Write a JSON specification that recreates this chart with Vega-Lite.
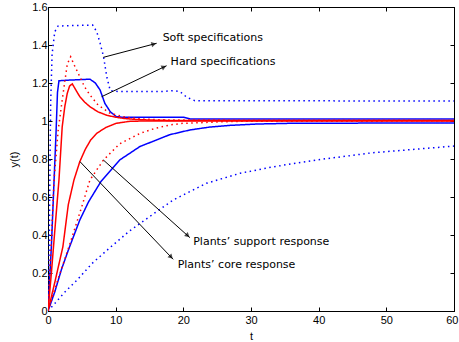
{
  "$schema": "https://vega.github.io/schema/vega-lite/v6.json",
  "width": 406,
  "height": 304,
  "autosize": "none",
  "padding": {"left": 48, "top": 7, "right": 5, "bottom": 31},
  "background": "white",
  "config": {
    "view": {"stroke": "black", "strokeWidth": 1},
    "axis": {
      "labelFont": "Liberation Sans", "labelFontSize": 11, "labelColor": "black",
      "titleFont": "Liberation Sans", "titleFontSize": 11, "titleFontWeight": "normal", "titleColor": "black",
      "domainColor": "black", "tickColor": "black", "tickSize": -4, "grid": false, "labelFlush": false
    }
  },
  "datasets": {
    "curves": [
      {"c":"SU","t":0,"y":0},{"c":"SU","t":0.2,"y":0.4},{"c":"SU","t":0.3,"y":0.8},{"c":"SU","t":0.4,"y":1.1},{"c":"SU","t":0.6,"y":1.35},{"c":"SU","t":1.0,"y":1.47},{"c":"SU","t":1.5,"y":1.5},{"c":"SU","t":6.6,"y":1.505},{"c":"SU","t":7.2,"y":1.47},{"c":"SU","t":7.7,"y":1.41},{"c":"SU","t":8.2,"y":1.34},{"c":"SU","t":8.7,"y":1.23},{"c":"SU","t":9.2,"y":1.16},{"c":"SU","t":10.5,"y":1.155},{"c":"SU","t":17,"y":1.155},{"c":"SU","t":18.5,"y":1.16},{"c":"SU","t":19.5,"y":1.155},{"c":"SU","t":20.5,"y":1.125},{"c":"SU","t":21.7,"y":1.107},{"c":"SU","t":60,"y":1.105},
      {"c":"SL","t":0,"y":0},{"c":"SL","t":1,"y":0.04},{"c":"SL","t":2.5,"y":0.1},{"c":"SL","t":4.3,"y":0.163},{"c":"SL","t":6.5,"y":0.25},{"c":"SL","t":9.3,"y":0.338},{"c":"SL","t":12,"y":0.42},{"c":"SL","t":15.7,"y":0.514},{"c":"SL","t":18.5,"y":0.584},{"c":"SL","t":23.4,"y":0.672},{"c":"SL","t":28.4,"y":0.725},{"c":"SL","t":33.3,"y":0.759},{"c":"SL","t":39.7,"y":0.795},{"c":"SL","t":48,"y":0.833},{"c":"SL","t":60,"y":0.868},
      {"c":"HU","t":0,"y":0},{"c":"HU","t":0.5,"y":0.34},{"c":"HU","t":0.9,"y":0.69},{"c":"HU","t":1.2,"y":0.95},{"c":"HU","t":1.4,"y":1.15},{"c":"HU","t":1.62,"y":1.212},{"c":"HU","t":3,"y":1.215},{"c":"HU","t":6.2,"y":1.22},{"c":"HU","t":7.0,"y":1.2},{"c":"HU","t":7.7,"y":1.163},{"c":"HU","t":8.4,"y":1.093},{"c":"HU","t":9.2,"y":1.049},{"c":"HU","t":10.1,"y":1.023},{"c":"HU","t":11,"y":1.02},{"c":"HU","t":20,"y":1.02},{"c":"HU","t":21,"y":1.011},{"c":"HU","t":60,"y":1.011},
      {"c":"HL","t":0,"y":0},{"c":"HL","t":1,"y":0.1},{"c":"HL","t":2,"y":0.22},{"c":"HL","t":3,"y":0.32},{"c":"HL","t":4.7,"y":0.479},{"c":"HL","t":6,"y":0.575},{"c":"HL","t":7.8,"y":0.68},{"c":"HL","t":10.6,"y":0.795},{"c":"HL","t":13.6,"y":0.866},{"c":"HL","t":15.1,"y":0.887},{"c":"HL","t":18,"y":0.928},{"c":"HL","t":21,"y":0.953},{"c":"HL","t":23.9,"y":0.968},{"c":"HL","t":26.9,"y":0.977},{"c":"HL","t":30.8,"y":0.984},{"c":"HL","t":36,"y":0.988},{"c":"HL","t":60,"y":0.99},
      {"c":"RU","t":0,"y":0},{"c":"RU","t":0.5,"y":0.2},{"c":"RU","t":1.0,"y":0.42},{"c":"RU","t":1.62,"y":0.69},{"c":"RU","t":2.1,"y":0.97},{"c":"RU","t":2.5,"y":1.08},{"c":"RU","t":2.85,"y":1.146},{"c":"RU","t":3.2,"y":1.185},{"c":"RU","t":3.6,"y":1.195},{"c":"RU","t":4.0,"y":1.17},{"c":"RU","t":4.7,"y":1.128},{"c":"RU","t":5.4,"y":1.1},{"c":"RU","t":6.2,"y":1.075},{"c":"RU","t":7.4,"y":1.048},{"c":"RU","t":8.7,"y":1.03},{"c":"RU","t":10,"y":1.02},{"c":"RU","t":11.1,"y":1.014},{"c":"RU","t":13,"y":1.008},{"c":"RU","t":16,"y":1.004},{"c":"RU","t":20,"y":1.002},{"c":"RU","t":60,"y":1.002},
      {"c":"RL","t":0,"y":0},{"c":"RL","t":1,"y":0.15},{"c":"RL","t":2.2,"y":0.338},{"c":"RL","t":3.0,"y":0.56},{"c":"RL","t":3.84,"y":0.69},{"c":"RL","t":4.7,"y":0.786},{"c":"RL","t":5.5,"y":0.85},{"c":"RL","t":6.3,"y":0.9},{"c":"RL","t":7.2,"y":0.935},{"c":"RL","t":8.5,"y":0.965},{"c":"RL","t":10.1,"y":0.988},{"c":"RL","t":12,"y":0.998},{"c":"RL","t":14,"y":1.0},{"c":"RL","t":60,"y":1.0},
      {"c":"DU","t":0,"y":0},{"c":"DU","t":0.9,"y":0.69},{"c":"DU","t":1.5,"y":0.95},{"c":"DU","t":2.1,"y":1.11},{"c":"DU","t":2.85,"y":1.3},{"c":"DU","t":3.35,"y":1.338},{"c":"DU","t":3.8,"y":1.3},{"c":"DU","t":4.7,"y":1.233},{"c":"DU","t":5.4,"y":1.18},{"c":"DU","t":6.2,"y":1.137},{"c":"DU","t":7.4,"y":1.084},{"c":"DU","t":9.2,"y":1.04},{"c":"DU","t":11.6,"y":1.019},{"c":"DU","t":14,"y":1.01},{"c":"DU","t":18,"y":1.005},{"c":"DU","t":60,"y":1.003},
      {"c":"DL","t":0,"y":0},{"c":"DL","t":1.5,"y":0.17},{"c":"DL","t":3.1,"y":0.338},{"c":"DL","t":5.0,"y":0.55},{"c":"DL","t":6.2,"y":0.69},{"c":"DL","t":8.2,"y":0.795},{"c":"DL","t":10.6,"y":0.88},{"c":"DL","t":13.6,"y":0.935},{"c":"DL","t":15.8,"y":0.961},{"c":"DL","t":18,"y":0.979},{"c":"DL","t":20,"y":0.988},{"c":"DL","t":22.5,"y":0.991},{"c":"DL","t":25,"y":0.995},{"c":"DL","t":28,"y":0.998},{"c":"DL","t":60,"y":1.0}
    ],
    "arrows": [
      {"label":"Soft specifications","x":8.17,"y":1.335,"x2":16.06,"y2":1.409,"tx":16.94,"ty":1.437},
      {"label":"Hard specifications","x":7.93,"y":1.128,"x2":17.53,"y2":1.291,"tx":18.12,"ty":1.311},
      {"label":"Plants’ support response","x":8.17,"y":0.795,"x2":20.97,"y2":0.386,"tx":21.46,"ty":0.365},
      {"label":"Plants’ core response","x":4.73,"y":0.786,"x2":18.5,"y2":0.272,"tx":19.16,"ty":0.244}
    ]
  },
  "resolve": {"axis": {"x": "independent", "y": "independent"}},
  "layer": [
    {
      "data": {"name": "curves"},
      "mark": {"type": "line", "clip": true},
      "encoding": {
        "x": {"field": "t", "type": "quantitative", "scale": {"domain": [0, 60], "nice": false},
              "axis": {"orient": "bottom", "values": [0,10,20,30,40,50,60], "title": "t", "labelPadding": 7, "titlePadding": 5,
                       "labelAlign": {"expr": "datum.value == 60 ? 'right' : 'center'"},
                       "labelOffset": {"expr": "datum.value == 60 ? 4 : 0"}}},
        "y": {"field": "y", "type": "quantitative", "scale": {"domain": [0, 1.6], "nice": false},
              "axis": {"orient": "left", "values": [0,0.2,0.4,0.6,0.8,1,1.2,1.4,1.6], "format": "~g", "title": "y(t)", "labelPadding": 5, "titlePadding": 12}},
        "detail": {"field": "c"},
        "color": {"field": "c", "type": "nominal", "legend": null,
                  "scale": {"domain": ["SU","SL","HU","HL","RU","RL","DU","DL"], "range": ["#0000ff","#0000ff","#0000ff","#0000ff","#ff0000","#ff0000","#ff0000","#ff0000"]}},
        "strokeDash": {"field": "c", "type": "nominal", "legend": null,
                  "scale": {"domain": ["SU","SL","HU","HL","RU","RL","DU","DL"], "range": [[1.5,3.5],[1.5,3.5],[1,0],[1,0],[1,0],[1,0],[1.5,3.5],[1.5,3.5]]}},
        "strokeWidth": {"field": "c", "type": "nominal", "legend": null,
                  "scale": {"domain": ["SU","SL","HU","HL","RU","RL","DU","DL"], "range": [1.5,1.5,2,2,2,2,1.5,1.5]}}
      }
    },
    {
      "data": {"name": "arrows"},
      "mark": {"type": "rule", "color": "black", "strokeWidth": 1},
      "encoding": {
        "x": {"field": "x", "type": "quantitative", "scale": {"domain": [0, 60], "nice": false},
              "axis": {"orient": "top", "values": [0,10,20,30,40,50,60], "labels": false, "title": null}},
        "y": {"field": "y", "type": "quantitative", "scale": {"domain": [0, 1.6], "nice": false},
              "axis": {"orient": "right", "values": [0,0.2,0.4,0.6,0.8,1,1.2,1.4,1.6], "labels": false, "title": null}},
        "x2": {"field": "x2"},
        "y2": {"field": "y2"}
      }
    },
    {
      "data": {"name": "arrows"},
      "mark": {"type": "text", "align": "left", "baseline": "middle", "font": "DejaVu Sans", "fontSize": 11, "color": "black"},
      "encoding": {
        "x": {"field": "tx", "type": "quantitative", "axis": null},
        "y": {"field": "ty", "type": "quantitative", "axis": null},
        "text": {"field": "label"}
      }
    },
    {
      "data": {"name": "arrows"},
      "transform": [{"filter": "datum.label === 'Soft specifications'"}],
      "mark": {"type": "point", "shape": "triangle-up", "filled": true, "color": "black", "size": 30, "angle": 75, "xOffset": -2.9, "yOffset": 0.8},
      "encoding": {"x": {"field": "x2", "type": "quantitative", "axis": null}, "y": {"field": "y2", "type": "quantitative", "axis": null}}
    },
    {
      "data": {"name": "arrows"},
      "transform": [{"filter": "datum.label === 'Hard specifications'"}],
      "mark": {"type": "point", "shape": "triangle-up", "filled": true, "color": "black", "size": 30, "angle": 64.5, "xOffset": -2.7, "yOffset": 1.3},
      "encoding": {"x": {"field": "x2", "type": "quantitative", "axis": null}, "y": {"field": "y2", "type": "quantitative", "axis": null}}
    },
    {
      "data": {"name": "arrows"},
      "transform": [{"filter": "datum.label === 'Plants’ support response'"}],
      "mark": {"type": "point", "shape": "triangle-up", "filled": true, "color": "black", "size": 30, "angle": 132, "xOffset": -2.2, "yOffset": -2.0},
      "encoding": {"x": {"field": "x2", "type": "quantitative", "axis": null}, "y": {"field": "y2", "type": "quantitative", "axis": null}}
    },
    {
      "data": {"name": "arrows"},
      "transform": [{"filter": "datum.label === 'Plants’ core response'"}],
      "mark": {"type": "point", "shape": "triangle-up", "filled": true, "color": "black", "size": 30, "angle": 136, "xOffset": -2.1, "yOffset": -2.2},
      "encoding": {"x": {"field": "x2", "type": "quantitative", "axis": null}, "y": {"field": "y2", "type": "quantitative", "axis": null}}
    }
  ]
}
